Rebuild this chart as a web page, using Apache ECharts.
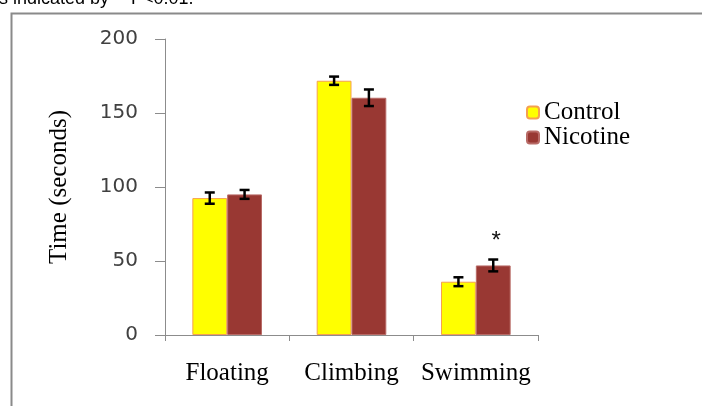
<!DOCTYPE html>
<html>
<head>
<meta charset="utf-8">
<script src="https://cdn.jsdelivr.net/npm/echarts@6/dist/echarts.min.js"></script>
<style>
  html, body { margin: 0; padding: 0; background: #fff; }
  #chart { width: 702px; height: 406px; }
</style>
</head>
<body>
<div id="chart"></div>
<script>
// data
var tests = ['Floating', 'Climbing', 'Swimming'];
var controlMean = [92.5, 171.8, 36];
var controlErr = [3.8, 2.8, 3];
var nicotineMean = [95, 160.3, 47];
var nicotineErr = [3, 5.6, 4];
var nicotineMark = ['', '', '*'];
var yTicks = [0, 50, 100, 150, 200];

var serif = '"Liberation Serif", "Times New Roman", serif';
var myChart = echarts.init(document.getElementById('chart'));

// error bar drawn with a custom series, offset to the bar's side
function errorSeries(means, errs, side, marks) {
    var data = [];
    for (var i = 0; i < means.length; i++) {
        data.push([i, means[i] - errs[i], means[i] + errs[i], marks ? marks[i] : '']);
    }
    return {
        type: 'custom',
        silent: true,
        z: 5,
        data: data,
        renderItem: function (params, api) {
            var idx = api.value(0);
            var lo = api.coord([idx, api.value(1)]);
            var hi = api.coord([idx, api.value(2)]);
            var band = api.size([1, 0])[0];
            var bw = band * 0.28;
            var x = lo[0] + side * bw / 2;
            var cap = 5;
            var st = { stroke: '#000', lineWidth: 2.5 };
            var kids = [
                { type: 'line', shape: { x1: x, y1: lo[1], x2: x, y2: hi[1] }, style: st },
                { type: 'line', shape: { x1: x - cap, y1: lo[1], x2: x + cap, y2: lo[1] }, style: st },
                { type: 'line', shape: { x1: x - cap, y1: hi[1], x2: x + cap, y2: hi[1] }, style: st }
            ];
            var mark = data[params.dataIndex][3];
            if (mark) {
                kids.push({
                    type: 'text',
                    style: {
                        text: mark, x: x + 3, y: hi[1] - 18,
                        align: 'center', verticalAlign: 'middle',
                        font: '24px "Liberation Sans", Arial', fill: '#111'
                    }
                });
            }
            return { type: 'group', children: kids };
        }
    };
}

var option = {
    animation: false,
    backgroundColor: '#fff',
    graphic: [
        {
            type: 'text', left: -1, top: -10,
            style: { text: 's indicated by  * P<0.01.', font: '18px "Liberation Sans", Arial', fill: '#000' }
        },
        {
            type: 'rect', left: 9, top: 11,
            shape: { width: 800, height: 500 },
            style: { fill: 'none', stroke: '#8a8a8a', lineWidth: 2 }
        }
    ],
    grid: { left: 165, right: 164, top: 39, bottom: 71 },
    legend: {
        orient: 'vertical',
        left: 521, top: 95,
        itemWidth: 12, itemHeight: 12, itemGap: 0,
        textStyle: { fontFamily: serif, fontSize: 25, lineHeight: 25, color: '#000' },
        data: ['Control', 'Nicotine']
    },
    xAxis: {
        type: 'category',
        data: tests,
        axisLine: { lineStyle: { color: '#8c8c8c', width: 1 } },
        axisTick: { show: true, length: 6, lineStyle: { color: '#8c8c8c' } },
        axisLabel: {
            interval: 0, hideOverlap: false,
            margin: 26, color: '#000', fontFamily: serif, fontSize: 25
        }
    },
    yAxis: {
        type: 'value',
        min: yTicks[0], max: yTicks[yTicks.length - 1], interval: 50,
        name: 'Time (seconds)',
        nameLocation: 'middle',
        nameGap: 93,
        nameTextStyle: { color: '#000', fontFamily: serif, fontSize: 25 },
        splitLine: { show: false },
        axisLine: { show: true, lineStyle: { color: '#8c8c8c', width: 1 } },
        axisTick: { show: true, length: 10, lineStyle: { color: '#8c8c8c' } },
        axisLabel: { margin: 27, color: '#404040', fontFamily: '"DejaVu Sans", sans-serif', fontSize: 20 }
    },
    series: [
        {
            name: 'Control', type: 'bar', data: controlMean,
            barWidth: '28%', barGap: '0%',
            itemStyle: { color: '#ffff00', borderColor: '#f5a050', borderWidth: 1 }
        },
        {
            name: 'Nicotine', type: 'bar', data: nicotineMean,
            barWidth: '28%', barGap: '0%',
            itemStyle: { color: '#993833', borderColor: '#b86a66', borderWidth: 1 }
        },
        errorSeries(controlMean, controlErr, -1),
        errorSeries(nicotineMean, nicotineErr, 1, nicotineMark)
    ]
};

myChart.setOption(option);
</script>
</body>
</html>
